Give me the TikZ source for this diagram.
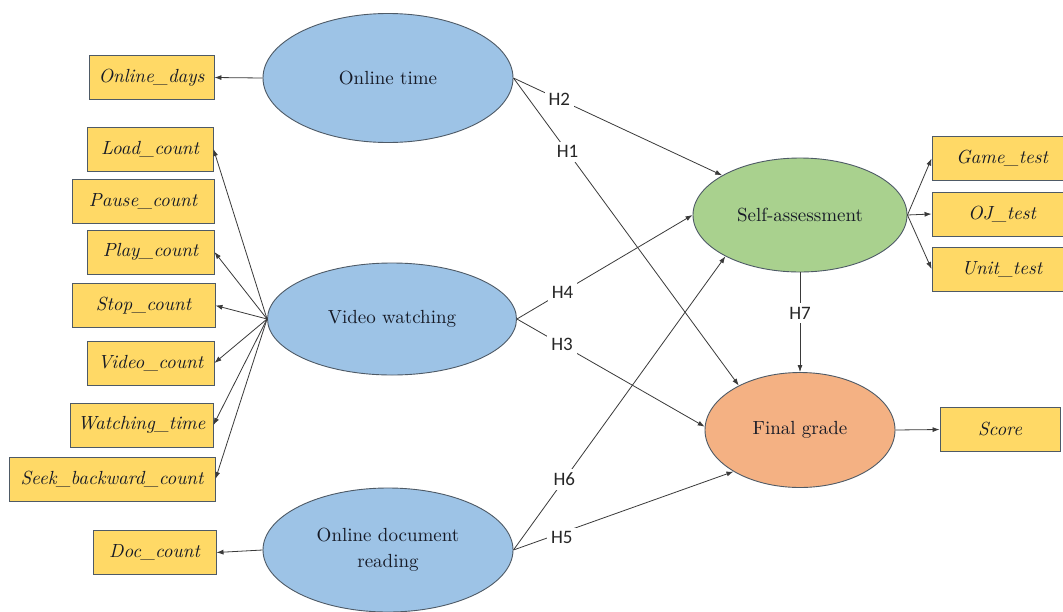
\documentclass[tikz,border=0pt]{standalone}
\usepackage{fontspec}
\newfontfamily\textserif{lmroman10-regular.otf}[ItalicFont=lmroman10-italic.otf]
\newfontfamily\labelfont{Carlito}
\usetikzlibrary{shapes.geometric,arrows.meta}

\definecolor{latentblue}{HTML}{9DC3E6}
\definecolor{latentgreen}{HTML}{A9D18E}
\definecolor{latentorange}{HTML}{F4B183}
\definecolor{itemyellow}{HTML}{FFD966}
\definecolor{edgegray}{HTML}{3A3A3A}
\definecolor{rimgray}{HTML}{4E5A66}
\definecolor{inktext}{HTML}{161A26}

\tikzset{
  latent/.style={ellipse, draw=rimgray, line width=0.9pt, inner sep=0pt,
    text=inktext, font=\textserif\fontsize{19}{26}\selectfont, align=center},
  item/.style={rectangle, draw=rimgray, line width=0.9pt, fill=itemyellow,
    inner sep=0pt, minimum height=44pt, text=inktext,
    font=\textserif\fontsize{19}{24}\selectfont\itshape},
  link/.style={draw=edgegray, line width=0.8pt, -{Latex[length=7pt,width=5pt]}},
  hyp/.style={fill=white, inner sep=4pt, text=black!85,
    font=\labelfont\fontsize{19}{22}\selectfont}
}

\begin{document}
\begin{tikzpicture}[x=1pt,y=-1pt]
\useasboundingbox[fill=white] (0,0) rectangle (1063,611);

% latent constructs
\node[latent, fill=latentblue, minimum width=250pt, minimum height=129pt] (ot)  at (388,78)  {Online time};
\node[latent, fill=latentblue, minimum width=249pt, minimum height=112pt] (vw)  at (392,319) {Video watching};
\node[latent, fill=latentblue, minimum width=250pt, minimum height=124pt] (odr) at (388,550) {Online document\\reading};
\node[latent, fill=latentgreen, minimum width=214pt, minimum height=114pt] (sa) at (800,215) {Self-assessment};
\node[latent, fill=latentorange, minimum width=190pt, minimum height=115pt] (fg) at (800,430) {Final grade};

% observed indicators, left column
\node[item, minimum width=125pt] (days)  at (151.5,77.5) {Online\_days};
\node[item, minimum width=126pt] (load)  at (150,149)    {Load\_count};
\node[item, minimum width=142pt] (pause) at (143,201.5)  {Pause\_count};
\node[item, minimum width=127pt] (play)  at (150.5,252)  {Play\_count};
\node[item, minimum width=143pt] (stop)  at (143.5,305.5) {Stop\_count};
\node[item, minimum width=127pt] (video) at (150.5,363)  {Video\_count};
\node[item, minimum width=143pt] (watch) at (141.5,425)  {Watching\_time};
\node[item, minimum width=206pt] (seek)  at (112,479)    {Seek\_backward\_count};
\node[item, minimum width=123pt] (doc)   at (154.5,552.5) {Doc\_count};

% observed indicators, right column
\node[item, minimum width=140pt] (game)  at (1002,158.5) {Game\_test};
\node[item, minimum width=140pt] (oj)    at (1002,214)   {OJ\_test};
\node[item, minimum width=140pt] (unit)  at (1002,269)   {Unit\_test};
\node[item, minimum width=120pt] (score) at (1000,429.5) {Score};

% measurement arrows
\draw[link] (ot.west) -- (days.east);
\foreach \t in {load,play,stop,video,watch,seek}
  \draw[link] (vw.west) -- (\t.east);
\draw[link] (odr.west) -- (doc.east);
\foreach \t in {game,oj,unit}
  \draw[link] (sa.east) -- (\t.west);
\draw[link] (fg.east) -- (score.west);

% structural paths
\draw[link] (ot.east)  -- node[hyp, pos=0.22] {H2} (sa.153);
\draw[link] (ot.east)  -- node[hyp, pos=0.24] {H1} (fg.144);
\draw[link] (vw.east)  -- node[hyp, pos=0.26] {H4} (sa.west);
\draw[link] (vw.east)  -- node[hyp, pos=0.24] {H3} (fg.178);
\draw[link] (odr.east) -- node[hyp, pos=0.24] {H6} (sa.209);
\draw[link] (odr.east) -- node[hyp, pos=0.22, yshift=-5pt] {H5} (fg.212);
\draw[link] (sa.south) -- node[hyp, pos=0.41] {H7} (fg.north);
\end{tikzpicture}
\end{document}
